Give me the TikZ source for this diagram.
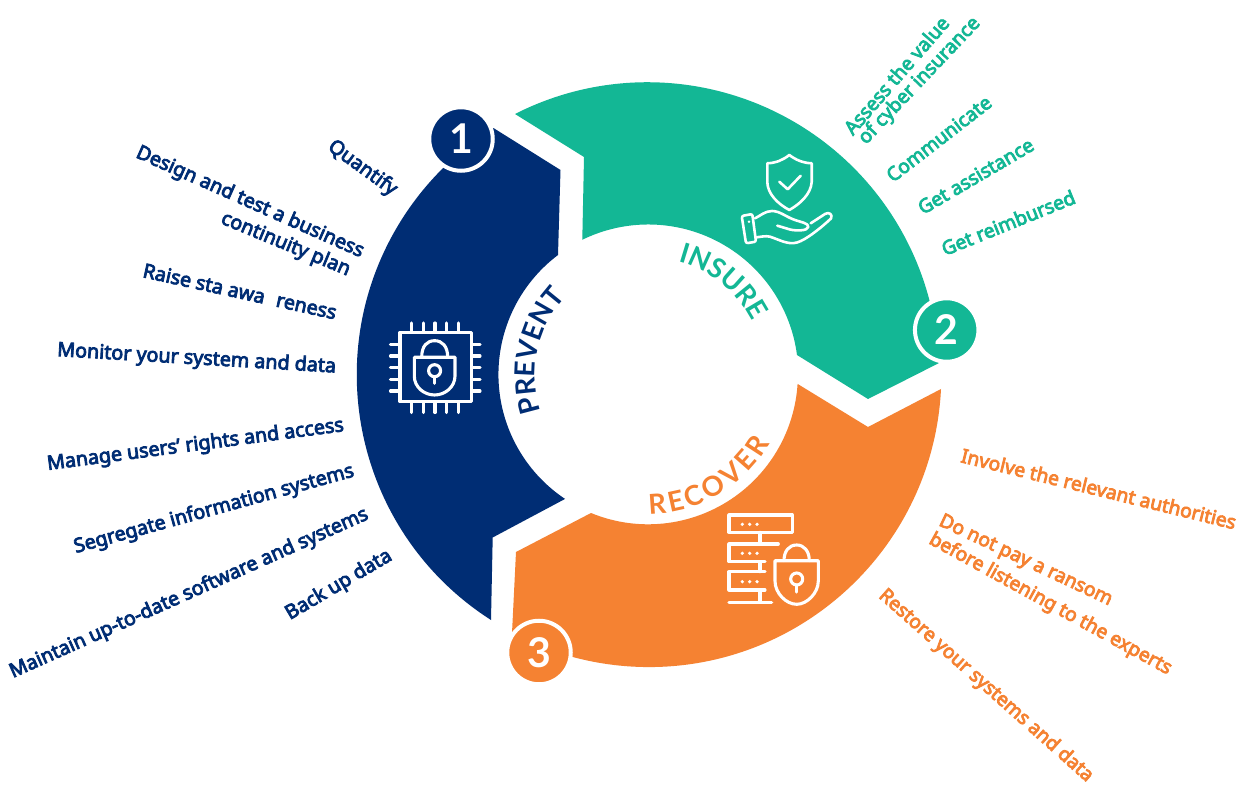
\documentclass[tikz,border=0pt]{standalone}
\usepackage{fontspec}
\setmainfont{Noto Sans}
\newfontfamily\digitfont{Lato}
\usetikzlibrary{decorations.text}
\definecolor{navyc}{HTML}{002D74}
\definecolor{greenc}{HTML}{13B795}
\definecolor{orangec}{HTML}{F58232}
\newcommand\lblfont{\fontsize{19.7}{22}\selectfont}
\newcommand\lblfontb{\fontsize{19.3}{22}\selectfont}
\newcommand\capfont{\digitfont\fontsize{27.5}{30}\selectfont\bfseries}
\newcommand\numfont{\digitfont\fontsize{41}{44}\selectfont\bfseries}
\tikzset{
  lbl/.style={anchor=base west,inner sep=0pt,outer sep=0pt,font=\lblfont,
    execute at begin node={\special{pdf:code 2 Tr 0.8 w}},
    execute at end node={\special{pdf:code 0 Tr}}},
  nl/.style={lbl,text=navyc},
  gl/.style={lbl,font=\lblfontb,text=greenc},
  ol/.style={lbl,font=\lblfontb,text=orangec},
  badge/.style={circle,draw=white,line width=4pt,minimum size=63.5pt,inner sep=0pt,outer sep=0pt,text=white,font=\numfont},
  ico/.style={draw=white,line width=3.1pt,line cap=round,line join=round},
  icothin/.style={draw=white,line width=2.6pt,line cap=round,line join=round},
  curved/.style={decorate,decoration={text along path,text align={fit to path},text={#1}}},
}
\begin{document}
\begin{tikzpicture}[x=1pt,y=-1pt]
\useasboundingbox (0,0) rectangle (1251,786);
\fill[white] (0,0) rectangle (1251,786);
% ring segments
\fill[navyc] (491,620) arc[start angle=237.4,end angle=122,radius=291pt] -- (560.5,170) -- (558,255)
  arc[start angle=127,end angle=236.3,radius=149.6pt] -- (492.7,537.5) -- cycle;
\fill[greenc] (515,114) arc[start angle=117,end angle=2.07,radius=291.5pt] -- (868,399) -- (797,355)
  arc[start angle=7.46,end angle=116.1,radius=150pt] -- (584,157) -- cycle;
\fill[orangec] (941,389) arc[start angle=-2.83,end angle=-117.9,radius=292.5pt] -- (516,552) -- (591,513)
  arc[start angle=-112.4,end angle=-3.6,radius=149.8pt] -- (868,427) -- cycle;
% badges
\node[badge,fill=navyc] (b1) at (461,139) {1};
\node[badge,fill=greenc] (b2) at (946.7,330) {2};
\node[badge,fill=orangec] (b3) at (539,652.5) {3};
% curved titles
\coordinate (ctr) at (648,374.5);
\path[curved={|\capfont\color{navyc}|PREVENT}] (ctr) ++(199:113pt) arc[start angle=199,end angle=140,radius=113pt];
\path[curved={|\capfont\color{greenc}|INSURE}] (ctr) ++(75:117pt) arc[start angle=75,end angle=27,radius=117pt];
\path[curved={|\capfont\color{orangec}|RECOVER}] (ctr) ++(-89.5:139.5pt) arc[start angle=-89.5,end angle=-29.5,radius=139.5pt];
% navy labels
\node[nl,rotate=-36] (n1) at (327,149) {Quantify};
\node[nl,rotate=-24] (n2) at (135,157) {Design and test a business};
\node[nl,rotate=-22.5] (n3) at (220,223) {continuity plan};
\node[nl,rotate=-12.4] (n4) at (142,277) {Raise sta awa\hspace{12pt}reness};
\node[nl,rotate=-3.4] (n5) at (57,356) {Monitor your system and data};
\node[nl,rotate=7.5] (n6) at (48,470) {Manage users’ rights and access};
\node[nl,rotate=15.4] (n7) at (76,553) {Segregate information systems};
\node[nl,rotate=24.1] (n8) at (13,678) {Maintain up-to-date software and systems};
\node[nl,rotate=30.5] (n9) at (290,620) {Back up data};
% green labels
\node[gl,rotate=49] (g1) at (853,136) {Assess the value};
\node[gl,rotate=46.5] (g2) at (866,145) {of cyber insurance};
\node[gl,rotate=37.8] (g3) at (893,183) {Communicate};
\node[gl,rotate=30.4] (g4) at (923,215) {Get assistance};
\node[gl,rotate=22] (g5) at (945,256) {Get reimbursed};
% orange labels
\node[ol,rotate=-13.8] (o1) at (960,462) {Involve the relevant authorities};
\node[ol,rotate=-25.2] (o2) at (938,525) {Do not pay a ransom};
\node[ol,rotate=-28.8] (o3) at (928,543) {before listening to the experts};
\node[ol,rotate=-41.6] (o4) at (878,597) {Restore your systems and data};
% shield + hand icon
\draw[icothin] (789.3,155) .. controls (796,160) and (803,163) .. (811.7,163.3)
  -- (811.7,182) .. controls (811,194) and (800,204) .. (789.3,210)
  .. controls (778,204) and (767.5,194) .. (767.3,182) -- (767.3,163.3)
  .. controls (776,163) and (783,160) .. (789.3,155) -- cycle;
\draw[icothin] (779.3,181.7) -- (787.7,189.3) -- (800.7,175.7);
\draw[icothin,rounded corners=2pt] (741.7,216) -- (752.3,214) -- (756,241.7) -- (746,243.3) -- cycle;
\fill[white] (749,221.7) circle (1.4pt);
\draw[icothin] (755,218.3) .. controls (760,216) and (765,211) .. (772,211)
  .. controls (780,211) and (786,217) .. (795,220) .. controls (800,222) and (809,223) .. (808.3,227)
  .. controls (807.5,231) and (796,231) .. (790,229.5) -- (777.3,225.7);
\draw[icothin] (810.7,223.3) -- (825,214) .. controls (829,211.5) and (833,214.5) .. (831,218.5)
  .. controls (822,227) and (806,240) .. (797,242.5) .. controls (788,245) and (780,240) .. (770,236.7)
  .. controls (766,235.5) and (760,237) .. (756.7,237.3);
% chip + lock icon
\draw[ico] (400,332.3) rectangle (471.7,401.7);
\foreach \px in {411.7,423.3,435,446.7,458.3} {
  \draw[ico] (\px,323) -- (\px,332.3);
  \draw[ico] (\px,401.7) -- (\px,412.5);
}
\foreach \py in {344.3,356,367.7,379.3,391} {
  \draw[ico] (390.5,\py) -- (400,\py);
  \draw[ico] (471.7,\py) -- (480,\py);
}
\draw[ico] (414.3,357.3) -- (455,357.3) -- (455,376) .. controls (455,387) and (445,395) .. (434.6,395)
  .. controls (424,395) and (414.3,387) .. (414.3,376) -- cycle;
\draw[ico] (421.7,357.3) .. controls (421.7,346) and (427,340.7) .. (434.6,340.7)
  .. controls (442,340.7) and (447.7,346) .. (447.7,357.3);
\draw[ico] (434.6,370.7) circle (6pt);
\draw[ico] (434.6,376.7) -- (434.6,383.3);
% server + lock icon
\draw[ico] (729,515) rectangle (792.3,532.3);
\draw[ico] (760,532.3) -- (760,544);
\draw[ico] (778.3,544) -- (729,544) -- (729,561.7) -- (765,561.7);
\draw[ico] (760,561.7) -- (760,571.7);
\draw[ico] (765,571.7) -- (729,571.7) -- (729,590) -- (765,590);
\draw[ico] (760,590) -- (760,602.3);
\draw[ico] (729,602.3) -- (771.7,602.3);
\foreach \dy in {524.3,553.3,581.7} {
  \foreach \dx in {742.3,749.7,757} {
    \fill[white] (\dx,\dy) circle (1.8pt);
  }
}
\draw[ico] (775,560.7) -- (818.3,560.7) -- (818.3,581) .. controls (818.3,593) and (807,604.3) .. (796.7,604.3)
  .. controls (786,604.3) and (775,593) .. (775,581) -- cycle;
\draw[ico] (784,560.7) .. controls (784,551) and (789,545) .. (796.7,545)
  .. controls (804,545) and (809.3,551) .. (809.3,560.7);
\draw[ico] (796.7,579) circle (6pt);
\draw[ico] (796.7,585) -- (796.7,592);
\end{tikzpicture}
\end{document}
